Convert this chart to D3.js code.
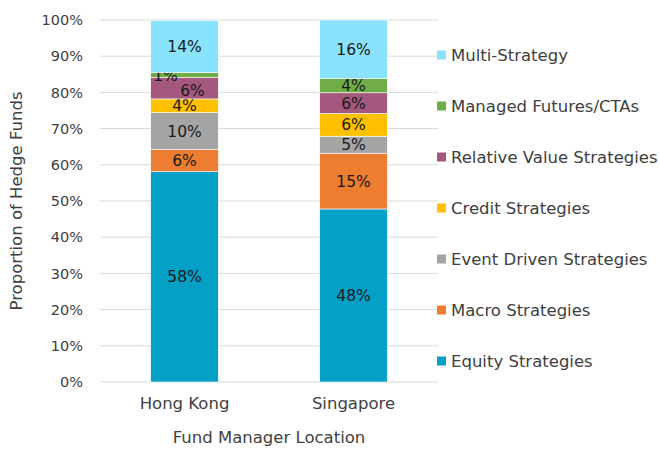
<!DOCTYPE html>
<html>
<head>
<meta charset="utf-8">
<script src="https://cdn.jsdelivr.net/npm/d3@7"></script>
<style>
  body { margin: 0; background: #fff; }
  text { font-family: "DejaVu Sans", sans-serif; }
</style>
</head>
<body>
<svg id="chart" width="659" height="451"></svg>
<script>
// Data (percent of funds).
const locations = ['Hong Kong', 'Singapore'];
const strategies = [
    'Equity Strategies', 'Macro Strategies', 'Event Driven Strategies',
    'Credit Strategies', 'Relative Value Strategies', 'Managed Futures/CTAs',
    'Multi-Strategy'];
const hongKong  = [58.1, 6.1, 10.2, 3.8, 5.9, 1.4, 14.4];
const singapore = [47.8, 15.4, 4.7, 6.3, 5.7, 3.9, 16.2];
const yTicks = [0, 10, 20, 30, 40, 50, 60, 70, 80, 90, 100];

const colors = ['#05a0c6', '#ed7d31', '#a5a5a5', '#ffc000', '#a5587e', '#70ad47', '#8ae3fc'];

// Hand-moved labels in the original (overlapping thin segments).
const labelNudge = {
    'Hong Kong|Managed Futures/CTAs': [-19, 1],
    'Hong Kong|Relative Value Strategies': [8, 2]
};

const rows = locations.map((loc, i) => {
    const vals = i === 0 ? hongKong : singapore;
    const row = {location: loc};
    strategies.forEach((s, j) => row[s] = vals[j]);
    return row;
});

const svg = d3.select('#chart'),
    margin = {top: 20, right: 221, bottom: 69, left: 100},
    width = 659 - margin.left - margin.right,
    height = 451 - margin.top - margin.bottom,
    g = svg.append('g').attr('transform', `translate(${margin.left},${margin.top})`);

const x = d3.scaleBand()
    .domain(locations)
    .range([0, width])
    .paddingInner(0.6)
    .paddingOuter(0.3);
const y = d3.scaleLinear()
    .domain([0, 100])
    .range([height, 0]);

//Gridlines.
g.append('g')
    .selectAll('line')
    .data(yTicks)
    .join('line')
    .attr('x1', 0)
    .attr('x2', width)
    .attr('y1', d => y(d))
    .attr('y2', d => y(d))
    .style('stroke', '#d9d9d9')
    .style('stroke-width', 1);

//Y axis tick labels.
const yAxis = g.append('g')
    .call(d3.axisLeft(y).tickValues(yTicks).tickFormat(d => d + '%').tickSize(0).tickPadding(17));
yAxis.select('.domain').remove();
yAxis.selectAll('text')
    .style('font-size', '14.5px')
    .style('fill', '#404040')
    .style('font-family', '"DejaVu Sans", sans-serif');

//X axis labels.
const xAxis = g.append('g')
    .attr('transform', `translate(0,${height})`)
    .call(d3.axisBottom(x).tickSize(0).tickPadding(15));
xAxis.select('.domain').remove();
xAxis.selectAll('text')
    .style('font-size', '16.5px')
    .style('fill', '#404040')
    .style('font-family', '"DejaVu Sans", sans-serif');

//Stacked segments.
const stacked = d3.stack().keys(strategies)(rows);
const layers = g.append('g')
    .selectAll('g')
    .data(stacked)
    .join('g')
    .style('fill', (d, i) => colors[i]);
layers.selectAll('rect')
    .data(d => d)
    .join('rect')
    .attr('x', d => x(d.data.location))
    .attr('width', x.bandwidth())
    .attr('y', d => y(d[1]))
    .attr('height', d => y(d[0]) - y(d[1]))
    .style('stroke', '#ffffff')
    .style('stroke-width', 0.6);

//Segment labels.
layers.each(function(layer) {
    d3.select(this).selectAll('text')
        .data(layer)
        .join('text')
        .attr('x', d => {
            const n = labelNudge[d.data.location + '|' + layer.key];
            return x(d.data.location) + x.bandwidth()/2 + (n ? n[0] : 0);
        })
        .attr('y', d => {
            const n = labelNudge[d.data.location + '|' + layer.key];
            return (y(d[0]) + y(d[1]))/2 + (n ? n[1] : 0);
        })
        .attr('dy', '0.35em')
        .attr('text-anchor', 'middle')
        .style('font-size', '15.5px')
        .style('fill', '#1a1a1a')
        .text(d => Math.round(d[1] - d[0]) + '%');
});

//Axis titles.
svg.append('text')
    .attr('transform', `translate(22,${margin.top + height/2}) rotate(-90)`)
    .attr('text-anchor', 'middle')
    .style('font-size', '16.5px')
    .style('fill', '#404040')
    .text('Proportion of Hedge Funds');
svg.append('text')
    .attr('x', margin.left + width/2)
    .attr('y', 443)
    .attr('text-anchor', 'middle')
    .style('font-size', '16.5px')
    .style('fill', '#404040')
    .text('Fund Manager Location');

//Legend, top item is the last series.
const legend = svg.append('g')
    .attr('transform', 'translate(437,55)')
    .selectAll('g')
    .data(strategies.slice().reverse())
    .join('g')
    .attr('transform', (d, i) => `translate(0,${i*51})`);
legend.append('rect')
    .attr('x', 0)
    .attr('y', -4.5)
    .attr('width', 9)
    .attr('height', 9)
    .style('fill', d => colors[strategies.indexOf(d)]);
legend.append('text')
    .attr('x', 14)
    .attr('dy', '0.35em')
    .style('font-size', '16.5px')
    .style('fill', '#404040')
    .text(d => d);
</script>
</body>
</html>
